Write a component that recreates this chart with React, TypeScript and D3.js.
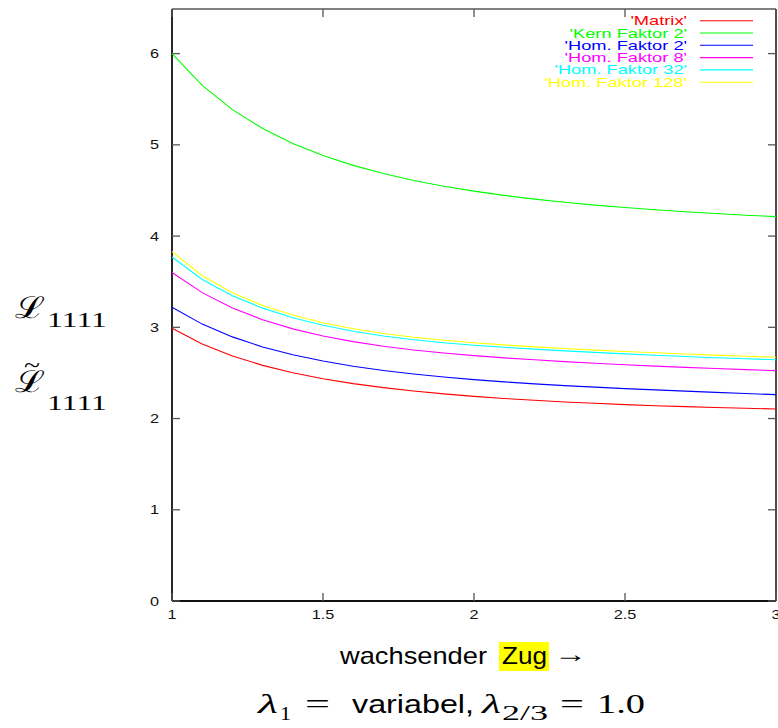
import React from "react";
import * as d3 from "d3";

const xValues = [1.0, 1.1, 1.2, 1.3, 1.4, 1.5, 1.6, 1.7, 1.8, 1.9, 2.0, 2.1, 2.2, 2.3, 2.4, 2.5, 2.6, 2.7, 2.8, 2.9, 3.0];

const matrix = [2.99, 2.817, 2.686, 2.583, 2.502, 2.437, 2.383, 2.339, 2.301, 2.270, 2.243, 2.220, 2.200, 2.182, 2.167, 2.153, 2.141, 2.131, 2.121, 2.112, 2.105];
const kernFaktor2 = [6.00, 5.651, 5.386, 5.179, 5.016, 4.883, 4.775, 4.685, 4.610, 4.547, 4.493, 4.446, 4.405, 4.370, 4.339, 4.313, 4.288, 4.266, 4.247, 4.229, 4.213];
const homFaktor2 = [3.220, 3.035, 2.895, 2.785, 2.700, 2.630, 2.573, 2.527, 2.488, 2.455, 2.427, 2.402, 2.380, 2.361, 2.344, 2.328, 2.314, 2.300, 2.287, 2.274, 2.262];
const homFaktor8 = [3.600, 3.380, 3.212, 3.083, 2.983, 2.905, 2.843, 2.793, 2.752, 2.718, 2.690, 2.665, 2.644, 2.624, 2.606, 2.590, 2.575, 2.561, 2.548, 2.536, 2.525];
const homFaktor32 = [3.770, 3.525, 3.345, 3.210, 3.105, 3.022, 2.957, 2.905, 2.864, 2.831, 2.804, 2.781, 2.761, 2.742, 2.725, 2.709, 2.694, 2.680, 2.667, 2.655, 2.644];
const homFaktor128 = [3.830, 3.565, 3.378, 3.240, 3.134, 3.050, 2.984, 2.932, 2.891, 2.858, 2.831, 2.807, 2.786, 2.767, 2.750, 2.735, 2.721, 2.708, 2.695, 2.683, 2.672];

const seriesNames = ["'Matrix'", "'Kern Faktor 2'", "'Hom. Faktor 2'", "'Hom. Faktor 8'", "'Hom. Faktor 32'", "'Hom. Faktor 128'"];
const seriesColors = ["#ff0000", "#00ff00", "#0000ff", "#ff00ff", "#00ffff", "#ffff00"];
const seriesValues = [matrix, kernFaktor2, homFaktor2, homFaktor8, homFaktor32, homFaktor128];

const yTicks = [0, 1, 2, 3, 4, 5, 6];
const xTicks = [1, 1.5, 2, 2.5, 3];
const xTickLabels = ["1", "1.5", "2", "2.5", "3"];

export default function App() {
  const W = 778, H = 728;
  const left = 172, right = 776, top = 9, bottom = 601;
  const x = d3.scaleLinear().domain([1, 3]).range([left, right]);
  const y = d3.scaleLinear().domain([0, 6.5]).range([bottom, 8]);
  const line = d3.line<number>().x((_, i) => x(xValues[i])).y((v) => y(v));
  const tickFont = "'Liberation Sans', Arial, sans-serif";
  const serif = "'Liberation Serif', 'DejaVu Serif', serif";
  const sans = "'Liberation Sans', Arial, sans-serif";

  return (
    <svg width={W} height={H} style={{ position: "absolute", left: 0, top: 0, background: "#fff" }}>
      {/* frame */}
      <line x1={left} y1={top} x2={right} y2={top} stroke="#555" strokeWidth={1.5} />
      <line x1={right} y1={top} x2={right} y2={bottom} stroke="#111" strokeWidth={1.5} />
      <line x1={left} y1={top} x2={left} y2={bottom} stroke="#111" strokeWidth={1.8} />
      <line x1={left} y1={bottom} x2={right} y2={bottom} stroke="#111" strokeWidth={1.8} />

      {/* y ticks */}
      {yTicks.map((t) => (
        <g key={"y" + t}>
          <line x1={left} x2={left + 8} y1={y(t)} y2={y(t)} stroke="#555" strokeWidth={1.3} />
          <line x1={right - 8} x2={right} y1={y(t)} y2={y(t)} stroke="#555" strokeWidth={1.3} />
          <g transform={`translate(159, ${y(t) + 4.5}) scale(1.3,1)`}>
            <text textAnchor="end" fontFamily={tickFont} fontSize={12.5} fill="#111">{t}</text>
          </g>
        </g>
      ))}

      {/* x ticks */}
      {xTicks.map((t, i) => (
        <g key={"x" + t}>
          <line x1={x(t)} x2={x(t)} y1={bottom} y2={bottom - 8} stroke="#555" strokeWidth={1.3} />
          <line x1={x(t)} x2={x(t)} y1={top} y2={top + 8} stroke="#555" strokeWidth={1.3} />
          <g transform={`translate(${x(t)}, 619) scale(1.3,1)`}>
            <text textAnchor="middle" fontFamily={tickFont} fontSize={12.5} fill="#111">{xTickLabels[i]}</text>
          </g>
        </g>
      ))}

      {/* series */}
      {seriesValues.map((vals, i) => (
        <path key={"s" + i} d={line(vals) || ""} fill="none" stroke={seriesColors[i]} strokeWidth={1.1} />
      ))}

      {/* legend */}
      {seriesNames.map((name, i) => {
        const ly = 20.7 + i * 12.3;
        return (
          <g key={"l" + i}>
            <g transform={`translate(687, ${ly + 4.5}) scale(1.46,1)`}>
              <text textAnchor="end" fontFamily={tickFont} fontSize={12.5} fill={seriesColors[i]}>{name}</text>
            </g>
            <line x1={700} x2={753} y1={ly} y2={ly} stroke={seriesColors[i]} strokeWidth={1.1} />
          </g>
        );
      })}

      {/* y-axis labels */}
      <text x={15} y={318} fontFamily="'DejaVu Serif', serif" fontSize={30} textLength={30} lengthAdjust="spacingAndGlyphs" fill="#000">ℒ</text>
      <text x={47} y={327} fontFamily={serif} fontSize={22} textLength={60} lengthAdjust="spacingAndGlyphs" fill="#000">1111</text>
      <text x={24} y={372} fontFamily={serif} fontSize={22} textLength={16} lengthAdjust="spacingAndGlyphs" fill="#000">~</text>
      <text x={15} y={392} fontFamily="'DejaVu Serif', serif" fontSize={30} textLength={30} lengthAdjust="spacingAndGlyphs" fill="#000">ℒ</text>
      <text x={47} y={410} fontFamily={serif} fontSize={22} textLength={60} lengthAdjust="spacingAndGlyphs" fill="#000">1111</text>

      {/* x-axis label */}
      <rect x={499} y={642} width={50} height={29} fill="#ffff00" />
      <text x={340} y={664} fontFamily={sans} fontSize={24} textLength={147} lengthAdjust="spacingAndGlyphs" fill="#000">wachsender</text>
      <text x={502} y={664} fontFamily={sans} fontSize={24} textLength={45} lengthAdjust="spacingAndGlyphs" fill="#000">Zug</text>
      <text x={554} y={662} fontFamily={serif} fontSize={24} textLength={33} lengthAdjust="spacingAndGlyphs" fill="#000">→</text>

      {/* parameter line */}
      <text x={258} y={713} fontFamily={serif} fontStyle="italic" fontSize={27} textLength={20} lengthAdjust="spacingAndGlyphs" fill="#000">λ</text>
      <text x={280} y={720} fontFamily={serif} fontSize={19} textLength={11} lengthAdjust="spacingAndGlyphs" fill="#000">1</text>
      <text x={305} y={713} fontFamily={serif} fontSize={27} textLength={25} lengthAdjust="spacingAndGlyphs" fill="#000">=</text>
      <text x={352} y={713} fontFamily={sans} fontSize={25} textLength={122} lengthAdjust="spacingAndGlyphs" fill="#000">variabel,</text>
      <text x={482} y={713} fontFamily={serif} fontStyle="italic" fontSize={27} textLength={19} lengthAdjust="spacingAndGlyphs" fill="#000">λ</text>
      <text x={502} y={720} fontFamily={serif} fontSize={20} textLength={46} lengthAdjust="spacingAndGlyphs" fill="#000">2/3</text>
      <text x={560} y={713} fontFamily={serif} fontSize={27} textLength={24} lengthAdjust="spacingAndGlyphs" fill="#000">=</text>
      <text x={597} y={713} fontFamily={serif} fontSize={27} textLength={48} lengthAdjust="spacingAndGlyphs" fill="#000">1.0</text>
    </svg>
  );
}
